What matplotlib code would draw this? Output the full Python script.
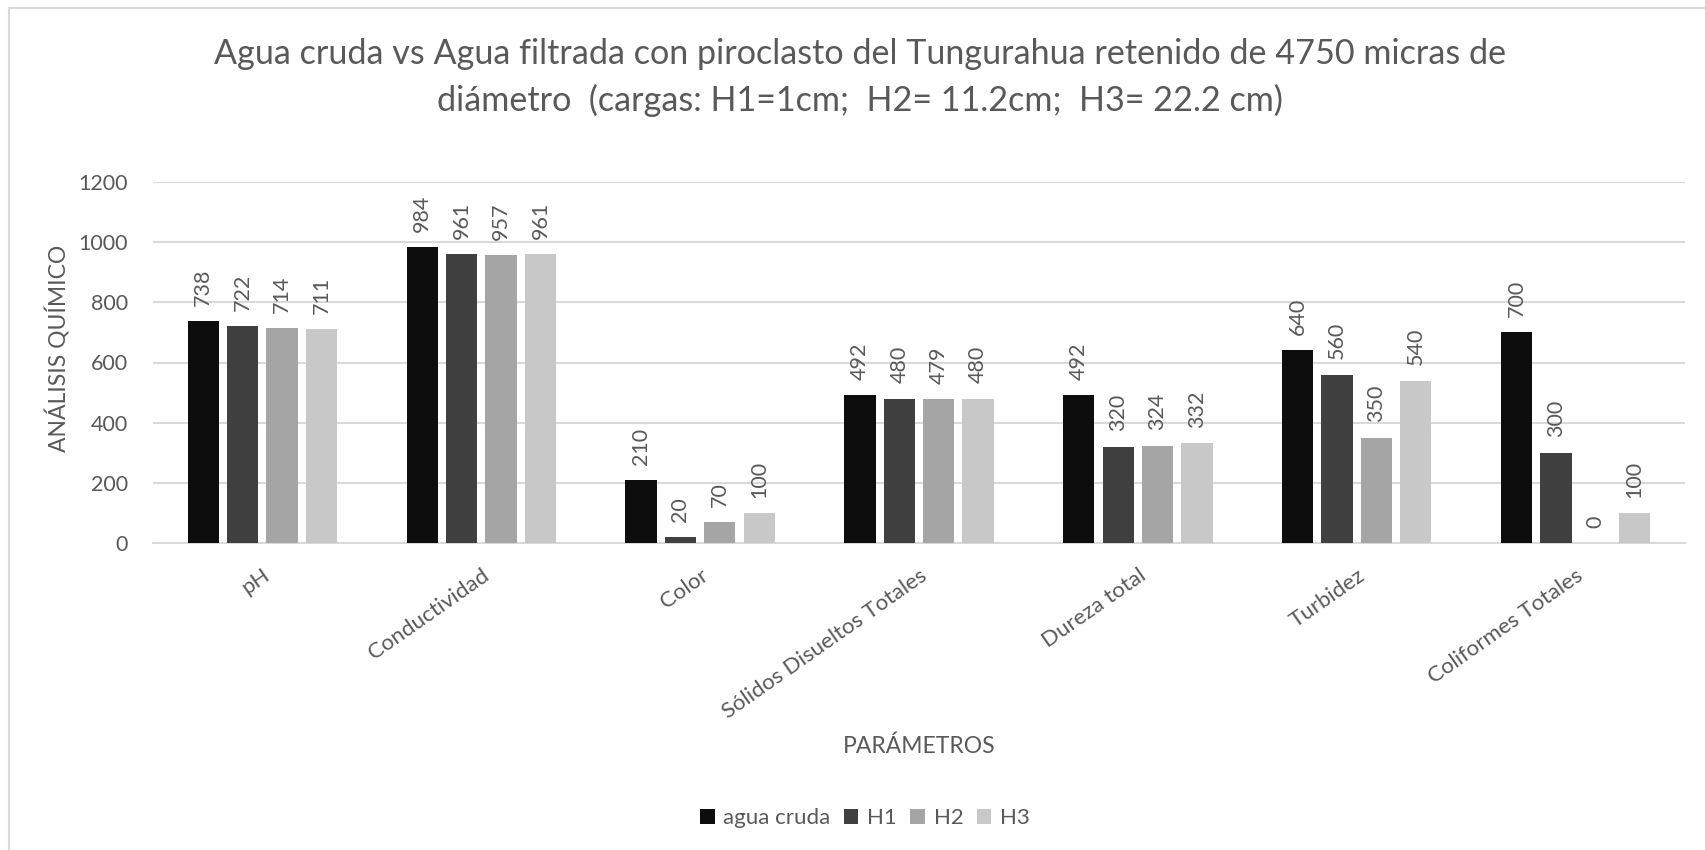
import matplotlib
matplotlib.use("Agg")
import matplotlib.pyplot as plt
import numpy as np
from matplotlib.lines import Line2D

categories = ["pH", "Conductividad", "Color", "Sólidos Disueltos Totales",
              "Dureza total", "Turbidez", "Coliformes Totales"]
series_names = ["agua cruda", "H1", "H2", "H3"]
agua_cruda = [738, 984, 210, 492, 492, 640, 700]
h1 = [722, 961, 20, 480, 320, 560, 300]
h2 = [714, 957, 70, 479, 324, 350, 0]
h3 = [711, 961, 100, 480, 332, 540, 100]
series = [agua_cruda, h1, h2, h3]
colors = ["#0d0d0d", "#404040", "#a5a5a5", "#c8c8c8"]

plt.rcParams['font.family'] = ['Lato', 'DejaVu Sans']
txt = "#595959"

fig = plt.figure(figsize=(17.05, 8.5), dpi=100)
ax = fig.add_axes([153/1705, 1 - 543/850, (1685-153)/1705, (543-182)/850])

x = np.arange(len(categories))
slot = 0.18
bw = 0.143
for i, (vals, c, name) in enumerate(zip(series, colors, series_names)):
    pos = x + (i - 1.5) * slot
    ax.bar(pos, vals, width=bw, color=c, label=name, zorder=3)
    for p, v in zip(pos, vals):
        ax.annotate(f"{v}", (p, v), xytext=(0, 11), textcoords="offset points",
                    rotation=90, ha="center", va="bottom", fontsize=15.5, color=txt)

ax.set_xlim(-0.5, len(categories) - 0.5)
ax.set_ylim(0, 1200)
ax.set_yticks(range(0, 1201, 200))
ax.yaxis.grid(True, color="#d9d9d9", linewidth=1.5, zorder=0)
for s in ["top", "right", "left"]:
    ax.spines[s].set_visible(False)
ax.spines["bottom"].set_color("#d9d9d9")
ax.spines["bottom"].set_linewidth(1.5)
ax.tick_params(axis="both", length=0, labelsize=15.5, colors=txt)
ax.tick_params(axis="y", pad=18)
ax.tick_params(axis="x", pad=16, labelsize=16)
ax.set_xticks(x)
ax.set_xticklabels(categories, rotation=35, ha="right", rotation_mode="anchor")

ax.set_ylabel("ANÁLISIS QUÍMICO", fontsize=16.5, color=txt, labelpad=6,
              y=(543 - 348) / (543 - 182))

cx = 919 / 1705
fig.text(cx, 1 - 746/850, "PARÁMETROS", ha="center", va="center", fontsize=16.5, color=txt)

fig.text(860/1705, 1 - 38/850,
         "Agua cruda vs Agua filtrada con piroclasto del Tungurahua retenido de 4750 micras de\n"
         "diámetro  (cargas: H1=1cm;  H2= 11.2cm;  H3= 22.2 cm)",
         ha="center", va="top", fontsize=24.6, color=txt, linespacing=1.5)

fig.legend(loc="center", bbox_to_anchor=(865/1705, 1 - 818/850), ncol=4, frameon=False,
           fontsize=16, labelcolor=txt, handlelength=0.65, handleheight=0.65,
           handletextpad=0.4, columnspacing=0.6)

# chart-area border (only top and left edges visible in the reference)
fig.add_artist(Line2D([8.5/1705, 1], [1 - 7.5/850, 1 - 7.5/850], transform=fig.transFigure,
                      color="#d9d9d9", linewidth=1.5))
fig.add_artist(Line2D([8.5/1705, 8.5/1705], [0, 1 - 7.5/850], transform=fig.transFigure,
                      color="#d9d9d9", linewidth=1.5))

fig.savefig("out.png", dpi=100)
